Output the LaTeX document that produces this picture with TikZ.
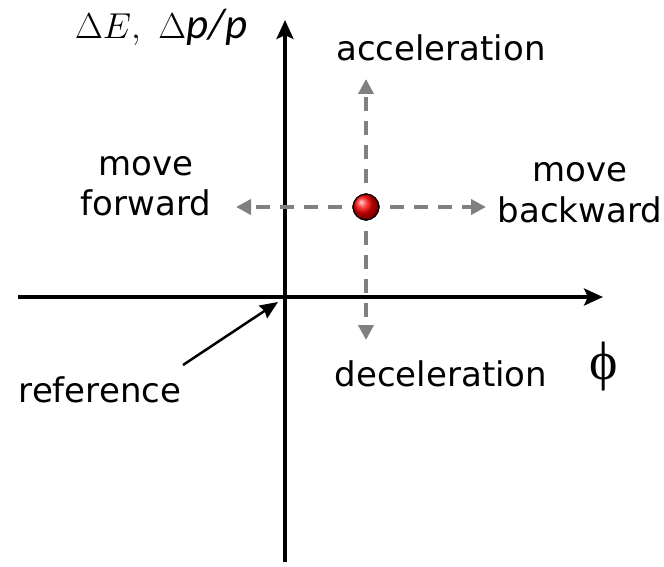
\RequirePackage{fix-cm}
\documentclass[tikz,border=0pt]{standalone}
\usepackage[no-math]{fontspec}
\setmainfont{DejaVu Sans}
\newfontfamily\calib{Carlito}
\newfontfamily\timesf{Liberation Serif}
\usetikzlibrary{arrows.meta}
\begin{document}
\begin{tikzpicture}[x=1pt,y=-1pt,
  axis/.style={line width=4.5pt,-{Stealth[length=19pt,width=17pt,inset=4pt]}},
  dasharrow/.style={black!50,line width=4pt,dash pattern=on 14pt off 10pt,-{Triangle[length=15pt,width=15pt]}},
  lbl/.style={font=\fontsize{34}{40}\selectfont,align=center,inner sep=0pt,anchor=base},
  pointer/.style={line width=2.5pt,-{Stealth[length=18pt,width=15pt,inset=2pt]}}]
\useasboundingbox (0,0) rectangle (664,567);
% axes
\coordinate (vb) at (285,562);
\coordinate (vt) at (285,20);
\coordinate (hl) at (18,297);
\coordinate (hr) at (603,297);
\draw[axis] (vb) -- (vt);
\draw[axis] (hl) -- (hr);
% particle and its moves
\coordinate (c) at (366,207);
\coordinate (up) at (366,79);
\coordinate (down) at (366,340);
\coordinate (left) at (236,207);
\coordinate (right) at (486,207);
\draw[dasharrow] (c) -- (up);
\draw[dasharrow] (c) -- (down);
\draw[dasharrow] (c) -- (left);
\draw[dasharrow] (c) -- (right);
\node[circle,minimum size=26pt,inner sep=0pt,draw=black,line width=1.2pt,ball color=red] (dot) at (c) {};
% labels
\node[lbl] (acc) at (441,61) {acceleration};
\node[lbl] (dec) at (441,386) {deceleration};
\node[inner sep=0pt] (phi) at (604,367) {\fontsize{54}{54}\timesf\symbol{"03D5}};
\node[lbl] (fwd) at (146,215) {move\\forward};
\node[lbl] (bwd) at (580,222) {move\\backward};
\node[lbl] (ref) at (100,402) {reference};
\node[inner sep=0pt,anchor=base west] (ylab) at (75,39) {\fontsize{36}{38}\selectfont$\Delta E,\ \Delta${\fontsize{43}{43}\calib\itshape p/p}};
\coordinate (reftail) at (183,365);
\coordinate (reftip) at (278,302);
\draw[pointer] (reftail) -- (reftip);
\end{tikzpicture}
\end{document}
